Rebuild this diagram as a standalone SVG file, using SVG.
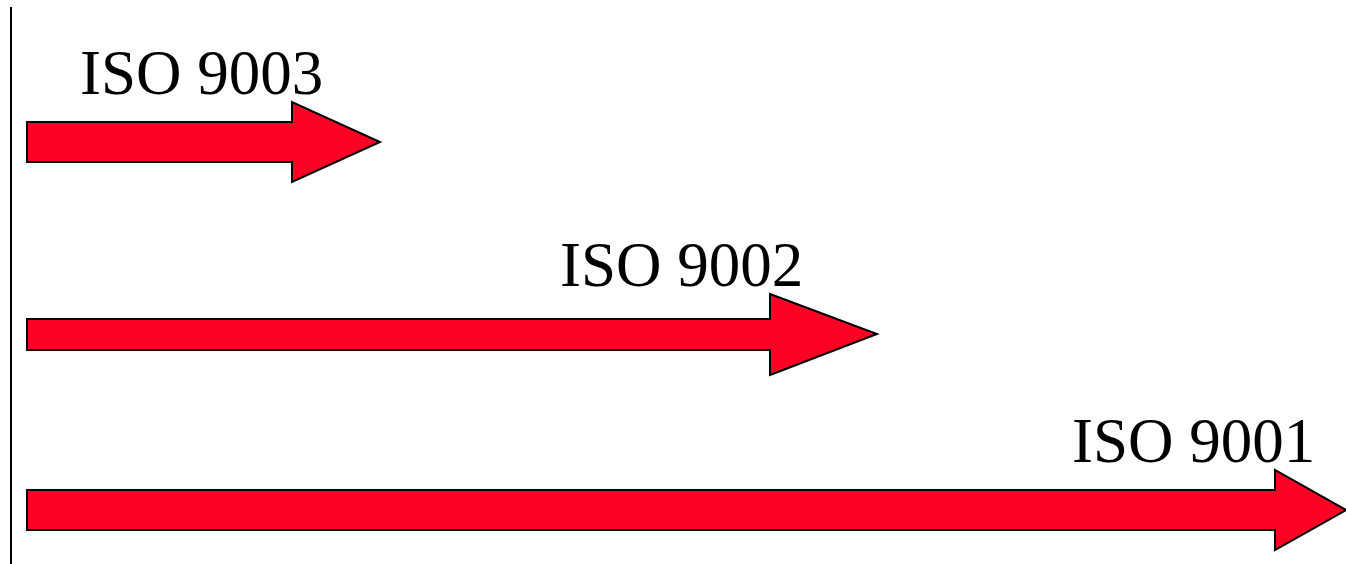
<svg xmlns="http://www.w3.org/2000/svg" width="1346" height="564" viewBox="0 0 1346 564">
  <style>
    .arrow { fill: #ff0025; stroke: #000; stroke-width: 2; stroke-linejoin: miter; }
    .label { font-family: "Liberation Serif", "Times New Roman", serif; font-size: 63px; fill: #000; }
    .axis { stroke: #000; stroke-width: 2; }
  </style>
  <g id="axis">
    <line class="axis" x1="11" y1="7" x2="11" y2="564"/>
  </g>
  <g id="iso9003">
    <polygon class="arrow" points="27,122 292,122 292,102 380,142 292,182 292,162 27,162"/>
    <text class="label" x="80" y="94">ISO 9003</text>
  </g>
  <g id="iso9002">
    <polygon class="arrow" points="27,319 770,319 770,294 877,334 770,375 770,350 27,350"/>
    <text class="label" x="560" y="286">ISO 9002</text>
  </g>
  <g id="iso9001">
    <polygon class="arrow" points="27,490 1275,490 1275,470 1346,510 1275,550 1275,530 27,530"/>
    <text class="label" x="1072" y="462">ISO 9001</text>
  </g>
</svg>
